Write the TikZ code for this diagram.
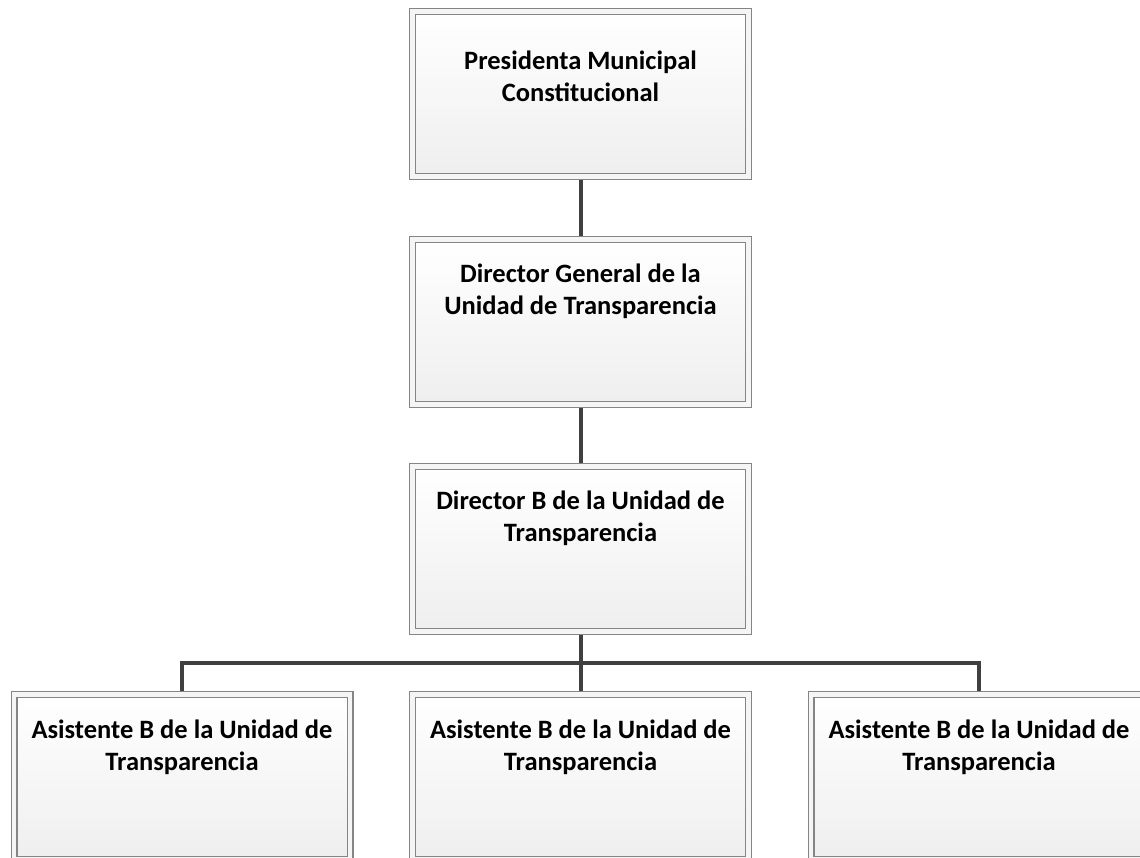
\documentclass[tikz,border=0pt]{standalone}
\usepackage{fontspec}
\setmainfont{Carlito}
\usepackage{xcolor}
\usepackage{tikz}

\definecolor{marco}{HTML}{858585}
\definecolor{enlacegris}{HTML}{404040}

% box text: top offset, then the lines
\newcommand{\cargo}[2]{\parbox[t][165pt][t]{334pt}{\centering\vspace*{#1}#2}}

\tikzset{
  puesto/.style={rectangle, draw=marco, line width=1.2pt, double=gray!8,
    double distance=4.6pt, top color=white, bottom color=gray!13,
    minimum width=336pt, minimum height=165pt, inner sep=0pt, outer sep=3.5pt,
    font=\bfseries\fontsize{26.5}{32.5}\selectfont},
  enlace/.style={draw=enlacegris, line width=4pt}
}

\begin{document}
\begin{tikzpicture}[x=1pt, y=-1pt]
  \useasboundingbox (0,0) rectangle (1140,858);
  % ---------- chain of command ----------
  \node[puesto] (presidenta) at (580.5,94) {\cargo{39pt}{Presidenta Municipal\\Constitucional}};
  \node[puesto] (dirgeneral) at (580.5,322) {\cargo{24pt}{Director General de la\\Unidad de Transparencia}};
  \node[puesto] (dirb) at (580.5,549) {\cargo{24pt}{Director B de la Unidad de\\Transparencia}};
  % ---------- assistants ----------
  \foreach \nombre/\px in {asis1/182, asis2/580.5, asis3/979}
    \node[puesto] (\nombre) at (\px,777) {\cargo{25pt}{Asistente B de la Unidad de\\Transparencia}};
  % ---------- connectors ----------
  \coordinate (bus) at (580.5,663);
  \draw[enlace] (presidenta) -- (dirgeneral);
  \draw[enlace] (dirgeneral) -- (dirb);
  \draw[enlace] (dirb) -- (asis2);
  \draw[enlace] (asis1.north) |- (bus) -| (asis3.north);
\end{tikzpicture}
\end{document}
